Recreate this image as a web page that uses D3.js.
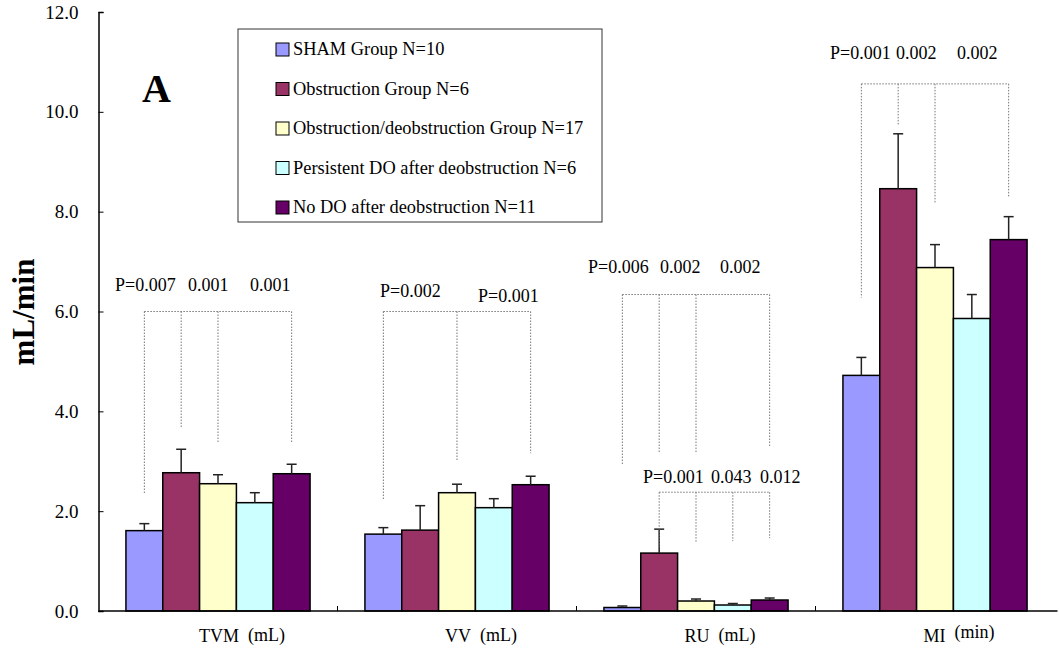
<!DOCTYPE html>
<html>
<head>
<meta charset="utf-8">
<script src="https://cdn.jsdelivr.net/npm/d3@7"></script>
<style>
  body { margin: 0; background: #fff; }
  svg { display: block; font-family: "Liberation Serif", "Times New Roman", serif; }
  .p-label { font-size: 18px; }
</style>
</head>
<body>
<div id="chart"></div>
<script>
// chart data
const categories = ["TVM", "VV", "RU", "MI"];
const units = ["(mL)", "(mL)", "(mL)", "(min)"];
const groups = [
  "SHAM Group N=10",
  "Obstruction Group N=6",
  "Obstruction/deobstruction Group N=17",
  "Persistent DO after deobstruction N=6",
  "No DO after deobstruction N=11"
];
const colors = ["#9999ff", "#993366", "#ffffcc", "#ccffff", "#660066"];

// mean values per group, one entry per category
const shamMean   = [1.61, 1.54, 0.07, 4.72];
const obstrMean  = [2.77, 1.62, 1.16, 8.46];
const deobsMean  = [2.55, 2.37, 0.20, 6.88];
const persMean   = [2.17, 2.07, 0.12, 5.86];
const noDoMean   = [2.75, 2.53, 0.22, 7.44];
// upper end of error bar (mean + SE)
const shamErr    = [1.75, 1.67, 0.10, 5.08];
const obstrErr   = [3.24, 2.11, 1.64, 9.56];
const deobsErr   = [2.73, 2.54, 0.24, 7.34];
const persErr    = [2.37, 2.25, 0.15, 6.34];
const noDoErr    = [2.94, 2.70, 0.26, 7.90];

const yTicks = [0, 2, 4, 6, 8, 10, 12];

// significance brackets: category, joined group indexes, top level, leg ends
const brackets = [
  { cat: "TVM", legs: [0, 1, 2, 4], top: 6.0,  ends: [2.36, 3.68, 3.38, 3.36] },
  { cat: "VV",  legs: [0, 2, 4],    top: 6.0,  ends: [2.24, 3.02, 3.16] },
  { cat: "RU",  legs: [0, 1, 2, 4], top: 6.34, ends: [2.92, 3.16, 3.16, 3.28] },
  { cat: "RU",  legs: [1, 2, 3, 4], top: 2.38, ends: [1.28, 1.36, 1.40, 1.46] },
  { cat: "MI",  legs: [0, 1, 2, 4], top: 10.56, ends: [6.28, 9.72, 8.16, 8.28] }
];
const pTexts = [
  ["P=0.007", "0.001", "0.001"],
  ["P=0.002", "P=0.001"],
  ["P=0.006", "0.002", "0.002"],
  ["P=0.001", "0.043", "0.012"],
  ["P=0.001", "0.002", "0.002"]
];
// label layout (px offset from category centre, baseline level)
const pLayout = [
  { level: 6.42,  dx: [-103, -30, 32] },
  { level: 6.3,   dx: [-77, 21], dy: [0, 5] },
  { level: 6.78,  dx: [-108, -36, 24] },
  { level: 2.56,  dx: [-53, 15, 64] },
  { level: 11.06, dx: [-105, -39, 22] }
];

const means = [shamMean, obstrMean, deobsMean, persMean, noDoMean];
const errs = [shamErr, obstrErr, deobsErr, persErr, noDoErr];

const W = 1059, H = 653;
const svg = d3.select("#chart").append("svg")
  .attr("width", W)
  .attr("height", H);

const x0 = d3.scaleBand()
  .domain(categories)
  .range([98.5, 1054.5])
  .padding(0);

const x1 = d3.scaleBand()
  .domain(d3.range(groups.length))
  .range([0, x0.bandwidth()])
  .paddingInner(0)
  .paddingOuter(0.745);

const y = d3.scaleLinear()
  .domain([0, 12])
  .range([611, 12]);

const barData = [];
categories.forEach((c, ci) => {
  groups.forEach((g, gi) => {
    barData.push({ cat: c, gi, value: means[gi][ci], err: errs[gi][ci] });
  });
});

const barX = (cat, gi) => x0(cat) + x1(gi);
const barCx = (cat, gi) => x0(cat) + x1(gi) + x1.bandwidth() / 2;

// bars
svg.append("g")
  .selectAll("rect")
  .data(barData)
  .join("rect")
  .attr("x", d => barX(d.cat, d.gi))
  .attr("y", d => y(d.value))
  .attr("width", x1.bandwidth())
  .attr("height", d => y(0) - y(d.value))
  .attr("fill", d => colors[d.gi])
  .attr("stroke", "#000")
  .attr("stroke-width", 1.5);

// error bars
const eb = svg.append("g")
  .attr("stroke", "#222")
  .attr("stroke-width", 1.5);
eb.selectAll("line.v")
  .data(barData)
  .join("line")
  .attr("class", "v")
  .attr("x1", d => barCx(d.cat, d.gi))
  .attr("x2", d => barCx(d.cat, d.gi))
  .attr("y1", d => y(d.value))
  .attr("y2", d => y(d.err));
eb.selectAll("line.cap")
  .data(barData)
  .join("line")
  .attr("class", "cap")
  .attr("x1", d => barCx(d.cat, d.gi) - 5)
  .attr("x2", d => barCx(d.cat, d.gi) + 5)
  .attr("y1", d => y(d.err))
  .attr("y2", d => y(d.err));

// y axis
const yAxis = svg.append("g")
  .attr("transform", `translate(${x0.range()[0]},0)`)
  .call(d3.axisRight(y)
    .tickValues(yTicks)
    .tickSize(5)
    .tickFormat(d3.format(".1f")));
yAxis.select(".domain").attr("stroke", "#000").attr("stroke-width", 1.5);
yAxis.selectAll(".tick line").attr("stroke", "#000").attr("stroke-width", 1);
yAxis.selectAll(".tick text")
  .attr("x", -20)
  .attr("dy", "0.32em")
  .attr("text-anchor", "end")
  .style("font-family", "'Liberation Serif', serif")
  .style("font-size", "19px")
  .attr("fill", "#000");

// x axis (category boundaries, inward ticks)
const boundaries = categories.map(c => x0(c)).concat([x0.range()[1]]);
svg.append("line")
  .attr("x1", x0.range()[0])
  .attr("x2", x0.range()[1] + 3)
  .attr("y1", y(0))
  .attr("y2", y(0))
  .attr("stroke", "#000")
  .attr("stroke-width", 1.5);
svg.append("g")
  .selectAll("line")
  .data(boundaries.slice(1, -1))
  .join("line")
  .attr("x1", d => d)
  .attr("x2", d => d)
  .attr("y1", y(0))
  .attr("y2", y(0) - 5)
  .attr("stroke", "#000");

// category labels
const catLabels = svg.append("g")
  .selectAll("text")
  .data(categories)
  .join("text")
  .attr("x", d => x0(d) + x0.bandwidth() / 2 + 24)
  .attr("y", 642)
  .attr("text-anchor", "middle")
  .style("font-size", "18px");
catLabels.append("tspan").text(d => d);
catLabels.append("tspan")
  .attr("dx", 9)
  .attr("dy", (d, i) => units[i] === "(min)" ? -4 : -1)
  .text((d, i) => units[i]);

// y axis title
svg.append("text")
  .attr("transform", "translate(34,312) rotate(-90)")
  .attr("text-anchor", "middle")
  .style("font-size", "31px")
  .style("font-weight", "bold")
  .text("mL/min");

// panel letter
svg.append("text")
  .attr("x", 142)
  .attr("y", 102)
  .style("font-size", "40px")
  .style("font-weight", "bold")
  .text("A");

// brackets
const br = svg.append("g")
  .attr("fill", "none")
  .attr("stroke", "#777")
  .attr("stroke-width", 1)
  .attr("stroke-dasharray", "1.5,1.5");
brackets.forEach(b => {
  const xs = b.legs.map(gi => barCx(b.cat, gi));
  br.append("line")
    .attr("x1", d3.min(xs)).attr("x2", d3.max(xs))
    .attr("y1", y(b.top)).attr("y2", y(b.top));
  br.selectAll(null)
    .data(b.legs)
    .join("line")
    .attr("x1", gi => barCx(b.cat, gi))
    .attr("x2", gi => barCx(b.cat, gi))
    .attr("y1", y(b.top))
    .attr("y2", (gi, i) => y(b.ends[i]));
});

// p-value labels
brackets.forEach((b, bi) => {
  const cx = x0(b.cat) + x0.bandwidth() / 2;
  const lay = pLayout[bi];
  svg.append("g")
    .selectAll("text")
    .data(pTexts[bi])
    .join("text")
    .attr("class", "p-label")
    .attr("x", (t, i) => cx + lay.dx[i])
    .attr("y", (t, i) => y(lay.level) + (lay.dy ? lay.dy[i] : 0))
    .text(t => t);
});

// legend
const legend = svg.append("g").attr("transform", "translate(238,29)");
legend.append("rect")
  .attr("width", 364)
  .attr("height", 193)
  .attr("fill", "#fff")
  .attr("stroke", "#333")
  .attr("stroke-width", 1);
const item = legend.selectAll("g.item")
  .data(groups)
  .join("g")
  .attr("class", "item")
  .attr("transform", (d, i) => `translate(38,${26 + i * 39.5})`);
item.append("rect")
  .attr("x", 0)
  .attr("y", -12)
  .attr("width", 13)
  .attr("height", 13)
  .attr("fill", (d, i) => colors[i])
  .attr("stroke", "#000")
  .attr("stroke-width", 1);
item.append("text")
  .attr("x", 17)
  .attr("y", 0)
  .style("font-size", "18.4px")
  .text(d => d);
</script>
</body>
</html>
